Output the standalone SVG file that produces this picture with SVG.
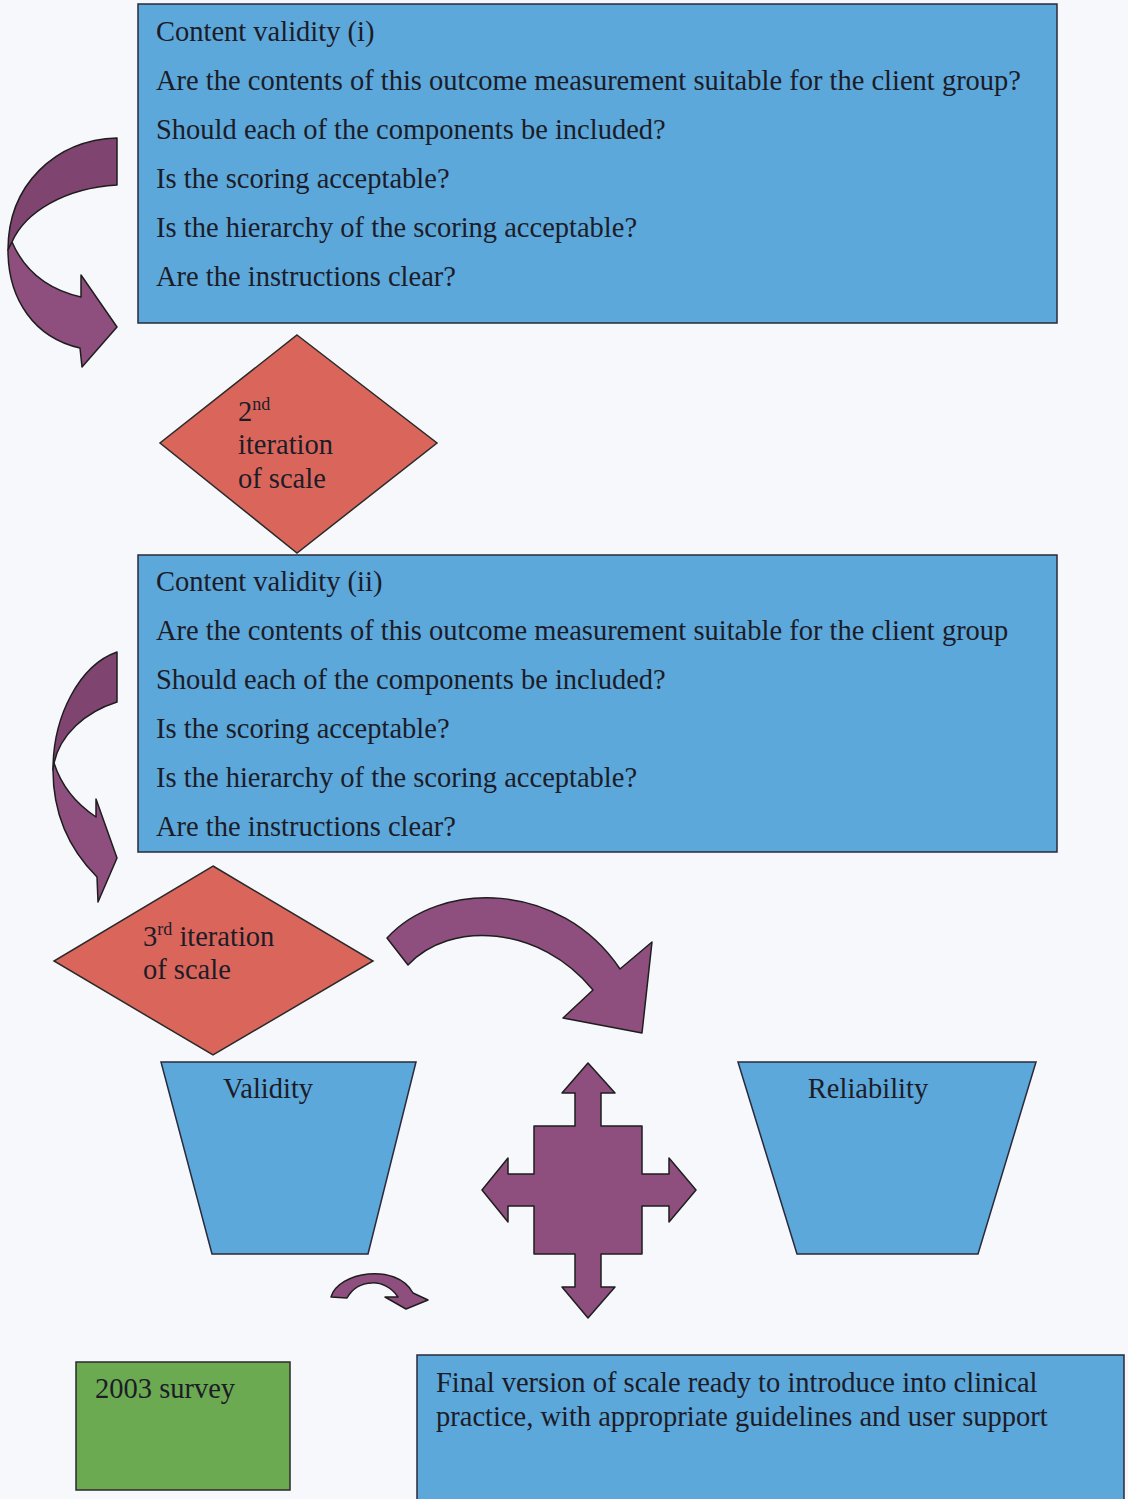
<svg xmlns="http://www.w3.org/2000/svg" width="1128" height="1499" viewBox="0 0 1128 1499">
<style>
.bx{fill:#5CA8DB;stroke:#2a2a3a;stroke-width:1.5}
.dm{fill:#DA665B;stroke:#2a2a2a;stroke-width:1.5}
.ar{fill:#8E4F7E;stroke:#1e1e1e;stroke-width:1.5;stroke-linejoin:round}
.ard{fill:#7F4470;stroke:#1e1e1e;stroke-width:1.5;stroke-linejoin:round}
.gr{fill:#6BAA50;stroke:#2a2a2a;stroke-width:1.5}
text{font-family:"Liberation Serif","Times New Roman",serif;font-size:28.5px;fill:#1c1c28}
.sup{font-size:18px}
</style>
<rect width="1128" height="1499" fill="#F7F8FC"/>
<g id="content-validity-i">
<rect class="bx" x="138" y="4" width="919" height="319"/>
<text x="156" y="41">Content validity (i)</text>
<text x="156" y="90">Are the contents of this outcome measurement suitable for the client group?</text>
<text x="156" y="139">Should each of the components be included?</text>
<text x="156" y="188">Is the scoring acceptable?</text>
<text x="156" y="237">Is the hierarchy of the scoring acceptable?</text>
<text x="156" y="286">Are the instructions clear?</text>
</g>
<g id="iteration-2">
<polygon class="dm" points="297,335 437,443 297,553 160,443"/>
<text x="238" y="421">2<tspan class="sup" dy="-11">nd</tspan></text>
<text x="238" y="454">iteration</text>
<text x="238" y="488">of scale</text>
</g>
<g id="content-validity-ii">
<rect class="bx" x="138" y="555" width="919" height="297"/>
<text x="156" y="591">Content validity (ii)</text>
<text x="156" y="640">Are the contents of this outcome measurement suitable for the client group</text>
<text x="156" y="689">Should each of the components be included?</text>
<text x="156" y="738">Is the scoring acceptable?</text>
<text x="156" y="787">Is the hierarchy of the scoring acceptable?</text>
<text x="156" y="836">Are the instructions clear?</text>
</g>
<g id="iteration-3">
<polygon class="dm" points="213,866 373,961 213,1055 54,961"/>
<text x="143" y="946">3<tspan class="sup" dy="-11">rd</tspan><tspan dy="11"> iteration</tspan></text>
<text x="143" y="979">of scale</text>
</g>
<g id="validity">
<polygon class="bx" points="161,1062 416,1062 368,1254 212,1254"/>
<text x="268" y="1098" text-anchor="middle">Validity</text>
</g>
<g id="reliability">
<polygon class="bx" points="738,1062 1036,1062 978,1254 797,1254"/>
<text x="868" y="1098" text-anchor="middle">Reliability</text>
</g>
<g id="survey-2003">
<rect class="gr" x="76" y="1362" width="214" height="128"/>
<text x="95" y="1398">2003 survey</text>
</g>
<g id="final-version">
<rect class="bx" x="417" y="1355" width="707" height="150"/>
<text x="436" y="1392">Final version of scale ready to introduce into clinical</text>
<text x="436" y="1426">practice, with appropriate guidelines and user support</text>
</g>
<g id="connectors">
<path class="ard" d="M117,138 L117,185 C 65,188 25,212 12,242 L8,250 C 8,185 55,140 117,138 Z"/>
<path class="ar" d="M12,242 C 25,272 50,290 81,297 L81,275 L117,327 L82,367 L80,348 C 35,338 8,300 8,250 Z"/>
<path class="ard" d="M117,652 L117,702 C 85,712 60,735 54,763 L53,770 C 53,715 80,665 117,652 Z"/>
<path class="ar" d="M54,763 C 62,788 78,805 96,817 L96,799 L117,858 L98,902 L97,877 C 70,850 53,815 53,770 Z"/>
<path class="ar" d="M387,938 C 440,880 560,880 620,969 L652,942 L642,1033 L563,1018 L593,990 C 540,925 450,920 408,965 Z"/>
<path class="ar" d="M331,1297 C 338,1272 396,1262 413,1293 L428,1300 L406,1309 L385,1297 L398,1297 C 386,1278 358,1278 347,1298 Z"/>
<path class="ar" d="M588,1063 L615,1093 L601,1093 L601,1126 L642,1126 L642,1174 L669,1174 L669,1158 L696,1190 L669,1222 L669,1206 L642,1206 L642,1254 L601,1254 L601,1287 L615,1287 L588,1318 L562,1287 L575,1287 L575,1254 L534,1254 L534,1206 L508,1206 L508,1222 L482,1190 L508,1158 L508,1174 L534,1174 L534,1126 L575,1126 L575,1093 L562,1093 Z"/>
</g>
</svg>
